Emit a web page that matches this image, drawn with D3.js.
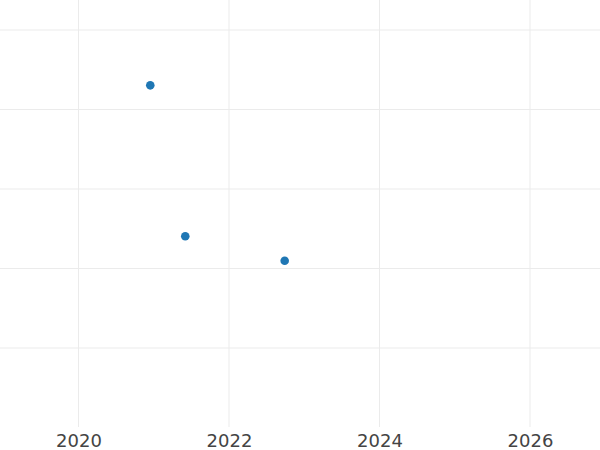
<!DOCTYPE html>
<html>
<head>
<meta charset="utf-8">
<script src="https://cdn.jsdelivr.net/npm/d3@7"></script>
<style>
  body { margin: 0; background: #fff; }
  svg { display: block; }
</style>
</head>
<body>
<svg id="chart" width="600" height="450"></svg>
<script>
// data (x in fractional years)
var xValues = [2020.954, 2021.419, 2022.740];
var yValues = [4.304, 2.405, 2.098];
var xTicks = [2020, 2022, 2024, 2026];
var yTicks = [1, 2, 3, 4, 5];

var width = 600,
    height = 450,
    plotBottom = 427;

var svg = d3.select("#chart");

var xScale = d3.scaleLinear()
    .domain([2018.957, 2026.930])
    .range([0, width]);

var yScale = d3.scaleLinear()
    .domain([1, 5])
    .range([348, 30]);

// grid lines
svg.append("g")
    .selectAll("line")
    .data(xTicks)
    .enter().append("line")
    .attr("x1", function (d) { return xScale(d); })
    .attr("x2", function (d) { return xScale(d); })
    .attr("y1", 0)
    .attr("y2", plotBottom)
    .attr("stroke", "#ebebeb")
    .attr("stroke-width", 1);

svg.append("g")
    .selectAll("line")
    .data(yTicks)
    .enter().append("line")
    .attr("x1", 0)
    .attr("x2", width)
    .attr("y1", function (d) { return yScale(d); })
    .attr("y2", function (d) { return yScale(d); })
    .attr("stroke", "#ebebeb")
    .attr("stroke-width", 1);

// x axis labels
var xAxis = svg.append("g")
    .attr("transform", "translate(0," + plotBottom + ")")
    .call(d3.axisBottom(xScale).tickValues(xTicks).tickFormat(d3.format("d")).tickSize(0).tickPadding(0));

xAxis.select(".domain").remove();
xAxis.selectAll("text")
    .attr("dy", null)
    .attr("y", 20)
    .attr("font-family", "DejaVu Sans")
    .attr("font-size", "18px")
    .attr("fill", "#444");

// points
svg.append("g")
    .selectAll("circle")
    .data(xValues)
    .enter().append("circle")
    .attr("cx", function (d) { return xScale(d); })
    .attr("cy", function (d, i) { return yScale(yValues[i]); })
    .attr("r", 4.3)
    .attr("fill", "#1f77b4");
</script>
</body>
</html>
